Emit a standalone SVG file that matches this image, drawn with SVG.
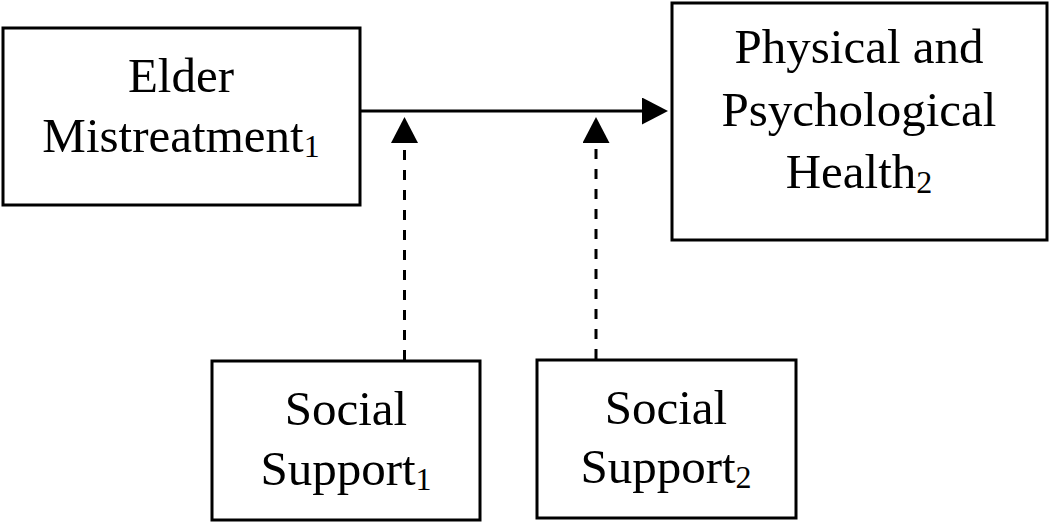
<svg xmlns="http://www.w3.org/2000/svg" width="1050" height="522" viewBox="0 0 1050 522">
<style>
.box{fill:#fff;stroke:#000;stroke-width:3}
.t{font-family:"Liberation Serif","Times New Roman",serif;font-size:49px;fill:#000;text-anchor:middle}
.sub{font-size:32px}
.solid{stroke:#000;stroke-width:3;fill:none}
.dash{stroke:#000;stroke-width:3;fill:none;stroke-dasharray:10 10}
</style>
<defs>
<marker id="ah" markerUnits="userSpaceOnUse" markerWidth="27" markerHeight="27" refX="0" refY="13.5" orient="auto" viewBox="0 0 27 27">
<path d="M0,0 L26,13.5 L0,27 z" fill="#000"/>
</marker>
</defs>
<g id="connectors">
<line class="solid" x1="361" y1="111" x2="642" y2="111" marker-end="url(#ah)"/>
<line class="dash" x1="404.5" y1="360" x2="404.5" y2="143" marker-end="url(#ah)"/>
<line class="dash" x1="596" y1="359" x2="596" y2="143" marker-end="url(#ah)"/>
</g>
<g id="elder">
<rect class="box" x="3" y="28" width="357" height="177"/>
<text class="t" x="181" y="92">Elder</text>
<text class="t" x="181" y="152">Mistreatment<tspan class="sub" dy="5">1</tspan></text>
</g>
<g id="health">
<rect class="box" x="672" y="3" width="375" height="237"/>
<text class="t" x="859" y="63">Physical and</text>
<text class="t" x="859" y="126">Psychological</text>
<text class="t" x="859" y="188">Health<tspan class="sub" dy="5">2</tspan></text>
</g>
<g id="support1">
<rect class="box" x="212" y="361" width="268" height="159"/>
<text class="t" x="346" y="425">Social</text>
<text class="t" x="346" y="485">Support<tspan class="sub" dy="5">1</tspan></text>
</g>
<g id="support2">
<rect class="box" x="537" y="360" width="259" height="158"/>
<text class="t" x="666" y="424">Social</text>
<text class="t" x="666" y="483">Support<tspan class="sub" dy="5">2</tspan></text>
</g>
</svg>
